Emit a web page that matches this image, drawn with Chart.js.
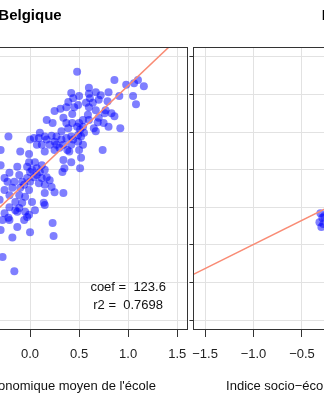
<!DOCTYPE html>
<html>
<head>
<meta charset="utf-8">
<title>Belgique - score et indice socio-économique de l'école</title>
<script src="https://cdn.jsdelivr.net/npm/chart.js@4"></script>
<style>
  html, body {
    margin: 0;
    padding: 0;
    background: #fff;
    width: 324px;
    height: 400px;
    overflow: hidden;
    position: relative;
  }
  canvas { position: absolute; top: 0; }
  #left { left: -128px; }
  #right { left: 182px; }
</style>
</head>
<body>
<canvas id="left" width="326" height="400"></canvas>
<canvas id="right" width="333" height="400"></canvas>
<script>
// Belgique: one point per school (index, mean score)
const beIndex = [
  0.48, 0.86, 0.98, 1.06, 1.10, 1.16, 1.05, 1.08, 0.60, 0.67,
  0.42, 0.44, 0.50, 0.60, 0.72, 0.80, 0.91, 0.61, 0.57, 0.64,
  0.70, 0.79, 0.39, 0.60, 0.49, 0.37, 0.45, 0.67, 0.77, 0.83,
  0.86, 0.76, 0.31, 0.25, 0.43, 0.70, 0.69, 0.75, 0.80, 0.92,
  0.60, 0.54, 0.50, 0.54, 0.65, 0.67, 0.51, 0.49, 0.55, 0.17,
  0.23, 0.34, 0.37, 0.43, 0.48, 0.39, 0.32, 0.10, -0.22, 0.15,
  0.22, 0.27, 0.04, 0.42, 0.59, 0.00, 0.09, 0.25, 0.32, 0.37,
  0.49, 0.52, 0.54, 0.50, 0.52, 0.51, 0.74, -0.10, -0.01, 0.15,
  0.25, 0.30, 0.40, 0.42, 0.05, -0.01, 0.34, 0.42, 0.35, -0.13,
  -0.03, 0.07, 0.00, 0.10, 0.15, -0.21, -0.11, 0.04, 0.12, 0.17,
  -0.26, -0.23, -0.16, -0.08, 0.00, 0.09, 0.15, 0.22, 0.25, 0.34,
  -0.18, -0.10, -0.01, 0.15, -0.26, -0.21, -0.11, -0.05, -0.15, -0.08,
  0.02, 0.14, -0.21, -0.11, -0.13, 0.15, -0.05, 0.05, 0.33, 0.02,
  0.07, -0.03, 0.12, 0.20, -0.06, 0.17, 0.20, 0.27, 0.34, 0.38,
  0.44, 0.12, 0.07, -0.26, -0.21, -0.03, -0.06, -0.13, 0.00, -0.18,
  0.23, 0.24, -0.28, -0.16, -0.22, -0.01, -0.15, -0.30, -0.31, -0.30,
  -0.30, -0.28
];
const beScore = [
  630, 619, 613, 615, 619, 611, 598, 587, 609, 603,
  602, 595, 598, 601, 599, 603, 598, 595, 589, 589,
  593, 591, 590, 583, 586, 583, 583, 579, 579, 575,
  571, 575, 581, 578, 574, 569, 563, 562, 557, 555,
  566, 566, 562, 557, 555, 551, 553, 546, 549, 566,
  562, 569, 562, 562, 557, 555, 551, 549, 544, 544,
  545, 544, 542, 544, 573, 540, 542, 537, 540, 542,
  537, 544, 533, 526, 516, 502, 526, 524, 521, 524,
  526, 529, 524, 533, 510, 510, 513, 510, 502, 504,
  504, 502, 497, 497, 500, 496, 493, 490, 489, 490,
  489, 484, 484, 484, 484, 482, 480, 477, 470, 469,
  476, 476, 473, 469, 473, 466, 466, 464, 457, 456,
  457, 456, 450, 449, 444, 453, 444, 446, 497, 500,
  493, 489, 506, 486, 480, 540, 533, 533, 533, 526,
  540, 533, 533, 442, 433, 437, 433, 424, 417, 410,
  429, 412, 384, 365, 436, 440, 446, 526, 460, 420,
  506, 433
];
// regression line ends
const beFitX = [-1.62, 1.61];
const beFitY = [288, 687];
const beCoef = 123.6;
const beR2 = 0.7698;

// second panel, only its left edge is in view
const isIndex = [-0.31, -0.29, -0.32, -0.30, -0.27, -0.28];
const isScore = [442, 436, 430, 424, 438, 428];
const isFitX = [-1.62, 1.61];
const isFitY = [361, 568];

const xTicks = [-1.5, -1.0, -0.5, 0.0, 0.5, 1.0, 1.5];
const yTicks = [300, 350, 400, 450, 500, 550, 600, 650];

const FONT = "'Liberation Sans', Arial, Helvetica, sans-serif";
const AXIS_TITLE = 'Indice socio\u2212économique moyen de l\'école';

Chart.defaults.font.family = FONT;
Chart.defaults.color = '#222';

function toPoints(xs, ys) {
  return xs.map((x, i) => ({ x: x, y: ys[i] }));
}

function fmtTick(v) {
  return v.toFixed(1).replace('-', '\u2212');
}

// box round the plot area, like R's box()
const panelBox = {
  id: 'panelBox',
  afterDraw(chart) {
    const { ctx, chartArea: a } = chart;
    ctx.save();
    ctx.strokeStyle = '#333';
    ctx.lineWidth = 1;
    ctx.strokeRect(Math.round(a.left) + 0.5, Math.round(a.top) + 0.5,
      Math.round(a.right - a.left) - 1, Math.round(a.bottom - a.top) - 1);
    ctx.restore();
  }
};

// coef / r2 text inside the panel
const statsText = {
  id: 'statsText',
  afterDatasetsDraw(chart, args, opts) {
    if (!opts.lines) return;
    const { ctx, scales } = chart;
    ctx.save();
    ctx.font = '13px ' + FONT;
    ctx.fillStyle = '#111';
    ctx.textAlign = 'center';
    ctx.textBaseline = 'middle';
    opts.lines.forEach(l => {
      ctx.fillText(l.text, scales.x.getPixelForValue(l.x), scales.y.getPixelForValue(l.y));
    });
    ctx.restore();
  }
};

function makePanel(id, cfg) {
  // a tick hugging the hidden left edge is dropped so its label doesn't pad the layout
  const ticks = xTicks.filter(v => v > cfg.xMin + 0.1);
  return new Chart(document.getElementById(id), {
    type: 'scatter',
    data: {
      datasets: [
        {
          data: toPoints(cfg.fitX, cfg.fitY),
          showLine: true,
          borderColor: '#f98b74',
          borderWidth: 1.5,
          pointRadius: 0
        },
        {
          data: toPoints(cfg.xs, cfg.ys),
          backgroundColor: 'rgba(0, 0, 255, 0.5)',
          borderWidth: 0,
          pointRadius: 4
        }
      ]
    },
    options: {
      responsive: false,
      animation: false,
      events: [],
      layout: { padding: { left: 0, right: cfg.padRight, top: 0, bottom: 0 } },
      plugins: {
        legend: { display: false },
        tooltip: { enabled: false },
        title: {
          display: true,
          text: cfg.title,
          color: '#000',
          font: { size: 15, weight: 'bold' },
          padding: { top: 7, bottom: 22 }
        },
        statsText: { lines: cfg.stats }
      },
      scales: {
        x: {
          min: cfg.xMin,
          max: 1.61,
          afterBuildTicks: s => { s.ticks = ticks.map(v => ({ value: v })); },
          afterFit: s => { s.height = 70; },
          border: { display: false },
          grid: { color: '#e2e2e2', tickColor: '#333', tickLength: 7 },
          ticks: { font: { size: 13 }, color: '#222', padding: 10, maxRotation: 0, autoSkip: false,
            callback: v => fmtTick(v) },
          title: { display: true, text: AXIS_TITLE, color: '#111', font: { size: 13 },
            padding: { top: 0, bottom: 6 } }
        },
        y: {
          min: 287,
          max: 663,
          afterBuildTicks: s => { s.ticks = yTicks.map(v => ({ value: v })); },
          afterFit: s => { s.width = cfg.yWidth; },
          border: { display: false },
          grid: { color: '#e2e2e2', tickColor: '#333', tickLength: 4, drawTicks: cfg.yTickMarks },
          ticks: { display: false }
        }
      }
    },
    plugins: [panelBox, statsText]
  });
}

makePanel('left', {
  title: 'Belgique',
  xs: beIndex, ys: beScore,
  fitX: beFitX, fitY: beFitY,
  xMin: -1.57,
  yWidth: 0,
  padRight: 10,
  yTickMarks: false,
  stats: [
    { text: 'coef =  ' + beCoef.toFixed(1), x: 1.0, y: 344 },
    { text: 'r2 =  ' + beR2.toFixed(4), x: 1.0, y: 319 }
  ]
});

makePanel('right', {
  title: 'Islande',
  xs: isIndex, ys: isScore,
  fitX: isFitX, fitY: isFitY,
  xMin: -1.62,
  yWidth: 10,
  padRight: 2,
  yTickMarks: true,
  stats: null
});
</script>
</body>
</html>
